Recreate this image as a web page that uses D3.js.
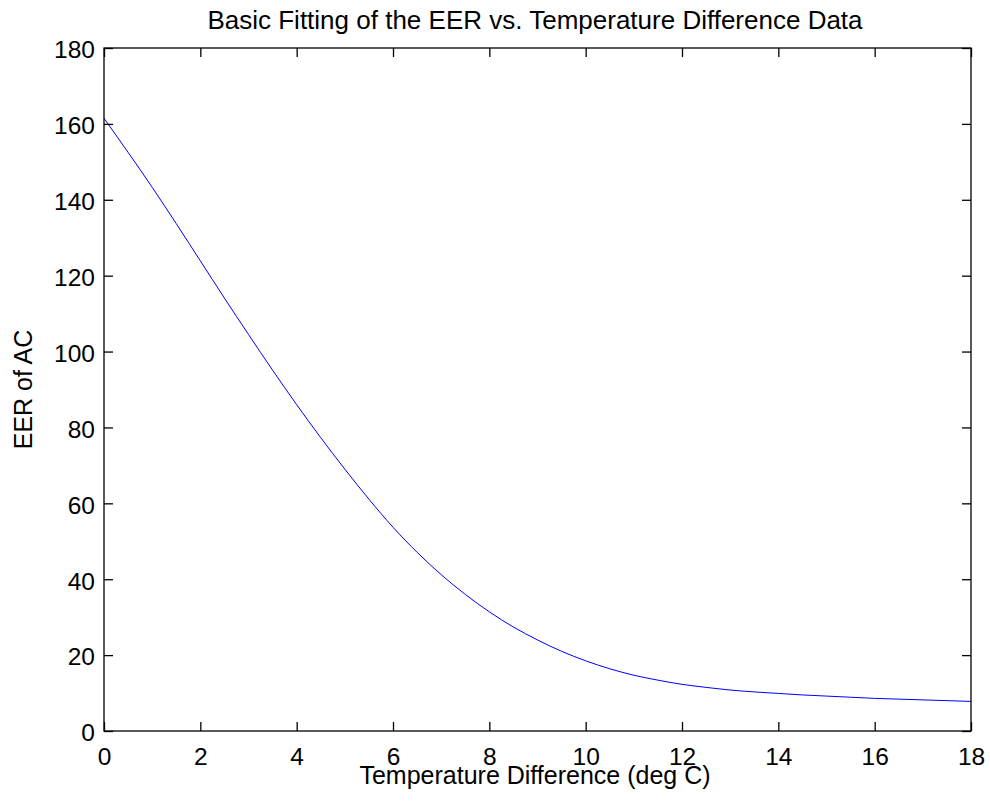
<!DOCTYPE html>
<html>
<head>
<meta charset="utf-8">
<script src="https://cdn.jsdelivr.net/npm/d3@7"></script>
<style>
  body { margin: 0; background: #fff; }
  svg { display: block; font-family: "Liberation Sans", Arial, sans-serif; }
</style>
</head>
<body>
<div id="chart"></div>
<script>
// values
const tempDiff = [0, 0.5, 1, 1.5, 2, 2.5, 3, 3.5, 4, 4.5, 5, 5.5, 6, 6.5, 7, 7.5, 8, 8.5, 9,
    9.5, 10, 10.5, 11, 11.5, 12, 12.5, 13, 13.5, 14, 14.5, 15, 15.5, 16, 16.5, 17, 17.5, 18];
const eer = [161.5, 152.5, 143.3, 133.7, 123.9, 114.1, 104.5, 95.1, 86.0, 77.3, 69.0, 61.1, 53.7, 47.1, 41.2, 36.0, 31.4,
    27.4, 24.0, 21.0, 18.5, 16.4, 14.7, 13.4, 12.3, 11.5, 10.8, 10.3, 9.9, 9.5, 9.2, 8.9, 8.6, 8.4, 8.2, 8.0, 7.8];
const xTicks = [0, 2, 4, 6, 8, 10, 12, 14, 16, 18];
const yTicks = [0, 20, 40, 60, 80, 100, 120, 140, 160, 180];

const width = 990;
const height = 806;
const margin = { top: 48, right: 19, bottom: 75, left: 104 };
const innerW = width - margin.left - margin.right;
const innerH = height - margin.top - margin.bottom;
const tickLen = 9;

const svg = d3.select("#chart")
    .append("svg")
    .attr("width", width)
    .attr("height", height);

const g = svg.append("g")
    .attr("transform", `translate(${margin.left}, ${margin.top})`);

const x = d3.scaleLinear().domain([0, 18]).range([0, innerW]);
const y = d3.scaleLinear().domain([0, 180]).range([innerH, 0]);

// the fitted line
const line = d3.line()
    .x((d, i) => x(tempDiff[i]))
    .y(d => y(d))
    .curve(d3.curveMonotoneX);

g.append("path")
    .datum(eer)
    .attr("d", line)
    .attr("fill", "none")
    .attr("stroke", "#0000ff")
    .attr("stroke-width", 1);

// box round the plot
g.append("rect")
    .attr("x", 0)
    .attr("y", 0)
    .attr("width", innerW)
    .attr("height", innerH)
    .attr("fill", "none")
    .attr("stroke", "#000")
    .attr("stroke-width", 1.3);

// inward ticks on all four sides, labels on bottom and left
const bottomAxis = d3.axisBottom(x).tickValues(xTicks).tickSize(-tickLen);
const topAxis = d3.axisTop(x).tickValues(xTicks).tickSize(-tickLen).tickFormat("");
const leftAxis = d3.axisLeft(y).tickValues(yTicks).tickSize(-tickLen);
const rightAxis = d3.axisRight(y).tickValues(yTicks).tickSize(-tickLen).tickFormat("");

const styleAxis = (sel) => {
    sel.select(".domain").remove();
    sel.selectAll(".tick line").attr("stroke", "#000").attr("stroke-width", 1.3);
    sel.selectAll(".tick text")
        .attr("fill", "#000")
        .style("font-size", "24.5px")
        .style("font-family", "'Liberation Sans', Arial, sans-serif");
};

g.append("g").attr("transform", `translate(0, ${innerH})`).call(bottomAxis).call(styleAxis)
    .selectAll(".tick text").attr("y", 34).attr("dy", 0);
g.append("g").call(topAxis).call(styleAxis);
g.append("g").call(leftAxis).call(styleAxis)
    .selectAll(".tick text").attr("x", -9).attr("dy", "0.4em");
g.append("g").attr("transform", `translate(${innerW}, 0)`).call(rightAxis).call(styleAxis);

// title and axis labels
svg.append("text")
    .attr("x", 535)
    .attr("y", 29)
    .attr("text-anchor", "middle")
    .style("font-size", "26px")
    .text("Basic Fitting of the EER vs. Temperature Difference Data");

svg.append("text")
    .attr("x", 535)
    .attr("y", 784)
    .attr("text-anchor", "middle")
    .style("font-size", "25px")
    .text("Temperature Difference (deg C)");

svg.append("text")
    .attr("transform", `translate(32, ${margin.top + innerH / 2}) rotate(-90)`)
    .attr("text-anchor", "middle")
    .style("font-size", "25px")
    .text("EER of AC");
</script>
</body>
</html>
